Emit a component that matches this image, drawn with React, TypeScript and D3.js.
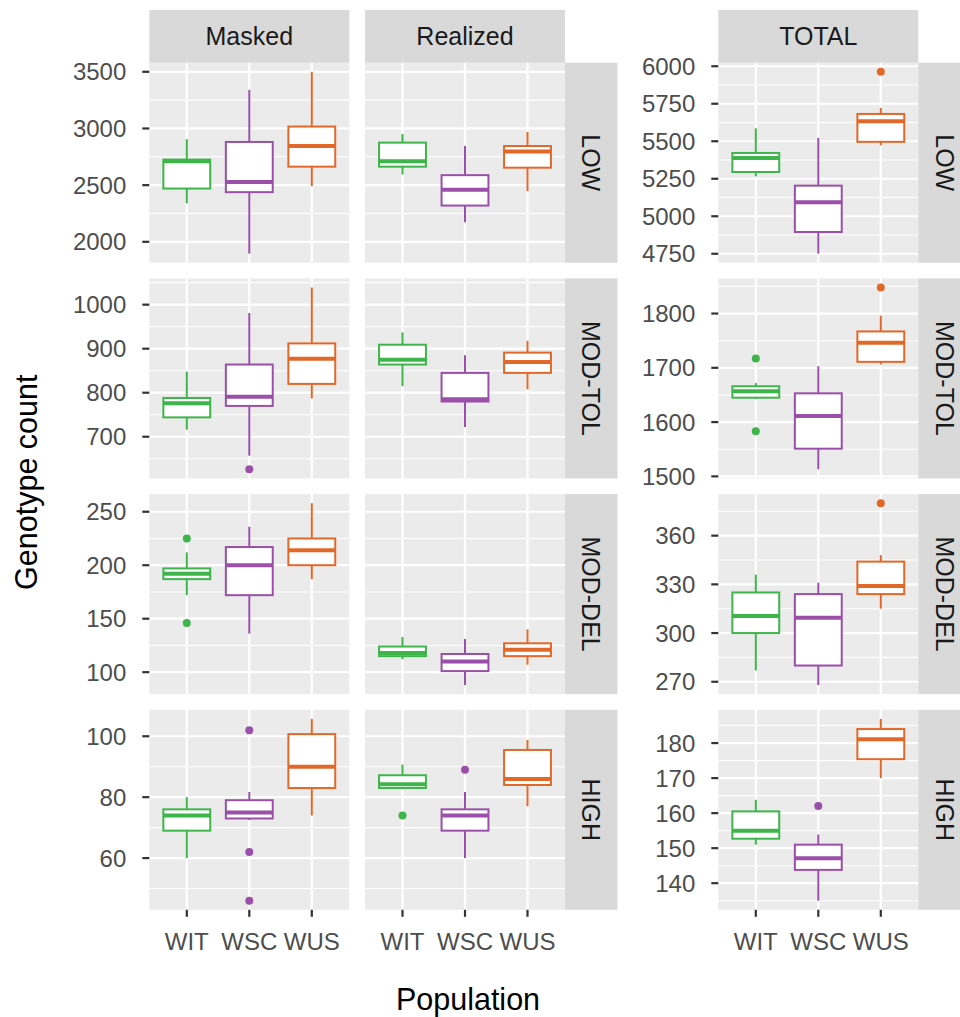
import React from "react";
import * as d3 from "d3";

const populations = ["WIT", "WSC", "WUS"];
const columns = ["Masked", "Realized", "TOTAL"];
const levels = ["LOW", "MOD-TOL", "MOD-DEL", "HIGH"];
const popColors = ["#3db54a", "#9a4fa8", "#e2682a"];

// each entry: [lower whisker, Q1, median, Q3, upper whisker] for WIT, WSC, WUS
const lowMasked = [[2340, 2470, 2710, 2725, 2905], [1896, 2438, 2527, 2881, 3341], [2491, 2663, 2845, 3017, 3500]];
const lowRealized = [[2595, 2663, 2710, 2875, 2951], [2173, 2320, 2459, 2588, 2845], [2447, 2654, 2796, 2845, 2969]];
const lowTotal = [[5266, 5295, 5389, 5422, 5586], [4751, 4895, 5093, 5204, 5522], [5473, 5496, 5633, 5682, 5722]];
const modTolMasked = [[716, 744, 776, 788, 848], [657, 770, 791, 864, 981], [787, 820, 877, 912, 1039]];
const modTolRealized = [[815, 864, 875, 909, 937], [722, 780, 785, 845, 885], [808, 845, 870, 891, 918]];
const modTolTotal = [[1643, 1645, 1657, 1666, 1672], [1513, 1551, 1611, 1653, 1703], [1706, 1711, 1746, 1767, 1796]];
const modDelMasked = [[172, 187, 192, 197, 212], [136, 172, 200, 217, 236], [187, 200, 214, 225, 258]];
const modDelRealized = [[112, 115, 118, 124, 133], [88, 101, 110, 117, 131], [107, 115, 121, 127, 140]];
const modDelTotal = [[277, 300, 310.5, 325, 336], [268, 280, 309.5, 324, 331], [315, 324, 329, 344, 348]];
const highMasked = [[60, 69, 74, 76, 80], [72.5, 73, 75, 79, 81.7], [74, 83, 90, 100.7, 105.7]];
const highRealized = [[83, 83, 84.2, 87.2, 90.7], [60, 69, 74, 76, 81.7], [77, 84, 86, 95.5, 98.8]];
const highTotal = [[151, 152.7, 155, 160.5, 163.8], [135, 143.8, 147.1, 151, 153.9], [170, 175.4, 181.1, 184, 186.9]];

// outliers for WIT, WSC, WUS
const lowMaskedOut = [[], [], []];
const lowRealizedOut = [[], [], []];
const lowTotalOut = [[], [], [5963]];
const modTolMaskedOut = [[], [626], []];
const modTolRealizedOut = [[], [], []];
const modTolTotalOut = [[1717, 1583], [], [1848]];
const modDelMaskedOut = [[225, 146], [], []];
const modDelRealizedOut = [[], [], []];
const modDelTotalOut = [[], [], [380]];
const highMaskedOut = [[], [102, 62, 46], []];
const highRealizedOut = [[74], [89], []];
const highTotalOut = [[], [162], []];

// y tick labels: shared (Masked/Realized) and TOTAL
const lowTicks = [2000, 2500, 3000, 3500];
const lowTotalTicks = [4750, 5000, 5250, 5500, 5750, 6000];
const modTolTicks = [700, 800, 900, 1000];
const modTolTotalTicks = [1500, 1600, 1700, 1800];
const modDelTicks = [100, 150, 200, 250];
const modDelTotalTicks = [270, 300, 330, 360];
const highTicks = [60, 80, 100];
const highTotalTicks = [140, 150, 160, 170, 180];

const statsTable = [
  [lowMasked, lowRealized, lowTotal],
  [modTolMasked, modTolRealized, modTolTotal],
  [modDelMasked, modDelRealized, modDelTotal],
  [highMasked, highRealized, highTotal],
];
const outTable = [
  [lowMaskedOut, lowRealizedOut, lowTotalOut],
  [modTolMaskedOut, modTolRealizedOut, modTolTotalOut],
  [modDelMaskedOut, modDelRealizedOut, modDelTotalOut],
  [highMaskedOut, highRealizedOut, highTotalOut],
];
const tickTable = [
  [lowTicks, lowTotalTicks],
  [modTolTicks, modTolTotalTicks],
  [modDelTicks, modDelTotalTicks],
  [highTicks, highTotalTicks],
];

const FONT = "'Liberation Sans', Arial, Helvetica, sans-serif";
const panelW = 200;
const panelH = 200;
const gap = 15.7;
const stripH = 52.7;
const stripW = 52.5;
const colX = [149.3, 365, 718.3];
const top0 = 62.7;
const rowY = levels.map((_, i) => top0 + i * (panelH + gap));

// ggplot-like domain: data range expanded by 5% each side
function rangeOf(cols: number[][][][], outs: number[][][]) {
  const vals: number[] = [];
  cols.forEach((c) => c.forEach((s) => vals.push(...s)));
  outs.forEach((o) => o.forEach((p) => vals.push(...p)));
  const lo = d3.min(vals) as number;
  const hi = d3.max(vals) as number;
  const pad = (hi - lo) * 0.05;
  return [lo - pad, hi + pad];
}

function minorTicks(ticks: number[], domain: number[]) {
  const step = ticks[1] - ticks[0];
  const out: number[] = [];
  [ticks[0] - step, ...ticks].forEach((t) => {
    const m = t + step / 2;
    if (m >= domain[0] && m <= domain[1]) out.push(m);
  });
  return out;
}

const Panel = ({ row, col, y }: { row: number; col: number; y: d3.ScaleLinear<number, number> }) => {
  const x0 = colX[col];
  const x = d3.scalePoint<string>().domain(populations).range([x0, x0 + panelW]).padding(0.6);
  const bw = x.step() * 0.75;
  const ticks = tickTable[row][col === 2 ? 1 : 0];
  const minors = minorTicks(ticks, y.domain());
  const stats = statsTable[row][col];
  const outs = outTable[row][col];
  return (
    <g>
      <rect x={x0} y={rowY[row]} width={panelW} height={panelH} fill="#ebebeb" />
      {minors.map((t) => (
        <line key={"m" + t} x1={x0} x2={x0 + panelW} y1={y(t)} y2={y(t)} stroke="#fff" strokeWidth={1.1} />
      ))}
      {ticks.map((t) => (
        <line key={"M" + t} x1={x0} x2={x0 + panelW} y1={y(t)} y2={y(t)} stroke="#fff" strokeWidth={2.2} />
      ))}
      {populations.map((p) => (
        <line key={"v" + p} x1={x(p)} x2={x(p)} y1={rowY[row]} y2={rowY[row] + panelH} stroke="#fff" strokeWidth={2.2} />
      ))}
      {populations.map((p, i) => {
        const [lw, q1, md, q3, uw] = stats[i];
        const cx = x(p) as number;
        const c = popColors[i];
        return (
          <g key={p}>
            <line x1={cx} x2={cx} y1={y(uw)} y2={y(q3)} stroke={c} strokeWidth={2} />
            <line x1={cx} x2={cx} y1={y(q1)} y2={y(lw)} stroke={c} strokeWidth={2} />
            <rect x={cx - bw / 2} y={y(q3)} width={bw} height={y(q1) - y(q3)} fill="#fff" stroke={c} strokeWidth={2} />
            <line x1={cx - bw / 2} x2={cx + bw / 2} y1={y(md)} y2={y(md)} stroke={c} strokeWidth={4} />
            {outs[i].map((v, k) => (
              <circle key={k} cx={cx} cy={y(v)} r={4} fill={c} />
            ))}
          </g>
        );
      })}
      {(col === 0 || col === 2) &&
        ticks.map((t) => (
          <g key={"yt" + t}>
            <line x1={x0 - 7} x2={x0} y1={y(t)} y2={y(t)} stroke="#333" strokeWidth={2.2} />
            <text x={x0 - 23} y={y(t)} dy="0.36em" textAnchor="end" fontSize={24} fill="#4d4d4d" fontFamily={FONT}>
              {t}
            </text>
          </g>
        ))}
      {row === levels.length - 1 &&
        populations.map((p) => (
          <g key={"xt" + p}>
            <line x1={x(p)} x2={x(p)} y1={rowY[row] + panelH} y2={rowY[row] + panelH + 7} stroke="#333" strokeWidth={2.2} />
            <text x={x(p)} y={rowY[row] + panelH + 40} textAnchor="middle" fontSize={24} fill="#4d4d4d" fontFamily={FONT}>
              {p}
            </text>
          </g>
        ))}
    </g>
  );
};

const App = () => {
  const yScales = levels.map((_, r) => {
    const shared = rangeOf([statsTable[r][0], statsTable[r][1]], [outTable[r][0], outTable[r][1]]);
    const total = rangeOf([statsTable[r][2]], [outTable[r][2]]);
    const ys = d3.scaleLinear().domain(shared).range([rowY[r] + panelH, rowY[r]]);
    const yt = d3.scaleLinear().domain(total).range([rowY[r] + panelH, rowY[r]]);
    return [ys, ys, yt];
  });
  const bottom = rowY[levels.length - 1] + panelH;

  return (
    <svg width={960} height={1017} style={{ position: "absolute", left: 0, top: 0, background: "#fff" }}>
      {levels.map((lv, r) =>
        columns.map((c, ci) => <Panel key={lv + c} row={r} col={ci} y={yScales[r][ci]} />)
      )}
      {columns.map((c, ci) => (
        <g key={"s" + c}>
          <rect x={colX[ci]} y={top0 - stripH} width={panelW} height={stripH} fill="#d9d9d9" />
          <text x={colX[ci] + panelW / 2} y={top0 - stripH / 2} dy="0.36em" textAnchor="middle" fontSize={25} fill="#1a1a1a" fontFamily={FONT}>
            {c}
          </text>
        </g>
      ))}
      {[1, 2].map((ci) =>
        levels.map((lv, r) => {
          const sx = colX[ci] + panelW;
          const cy = rowY[r] + panelH / 2;
          return (
            <g key={"r" + ci + lv}>
              <rect x={sx} y={rowY[r]} width={stripW} height={panelH} fill="#d9d9d9" />
              <text
                transform={`translate(${sx + stripW / 2},${cy}) rotate(90)`}
                dy="0.36em"
                textAnchor="middle"
                fontSize={25}
                fill="#1a1a1a"
                fontFamily={FONT}
              >
                {lv}
              </text>
            </g>
          );
        })
      )}
      <text x={468} y={1010} textAnchor="middle" fontSize={30.5} fill="#000" fontFamily={FONT}>
        Population
      </text>
      <text
        transform={`translate(37,${(top0 + bottom) / 2 - 4}) rotate(-90)`}
        textAnchor="middle"
        fontSize={30.5}
        fill="#000"
        fontFamily={FONT}
      >
        Genotype count
      </text>
    </svg>
  );
};

export default App;
